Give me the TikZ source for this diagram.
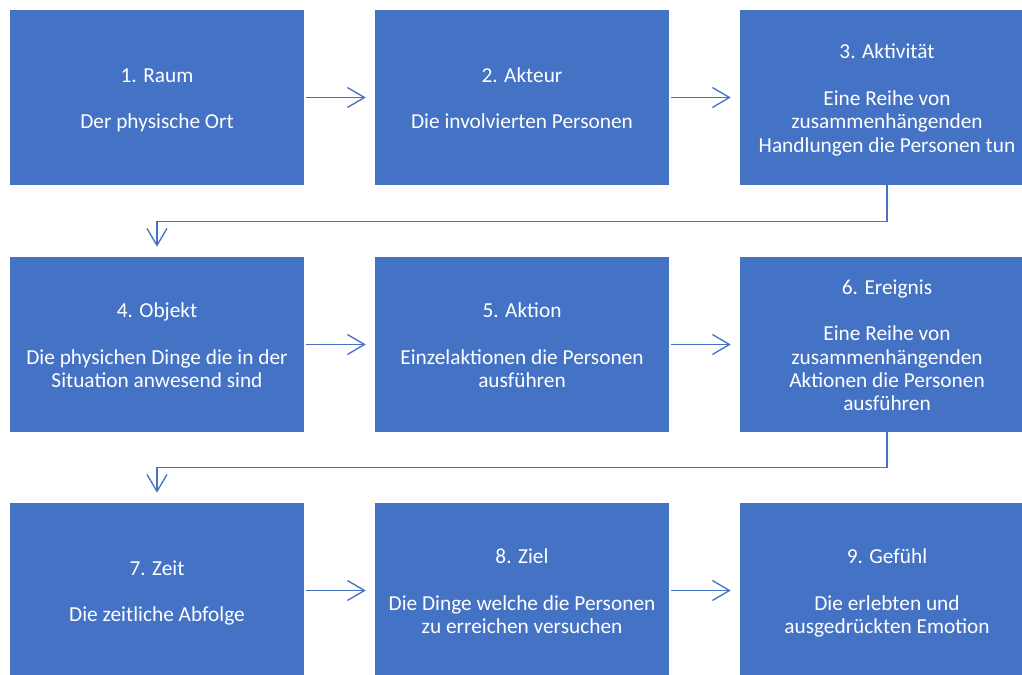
\documentclass[tikz,border=0pt]{standalone}
\usepackage{fontspec}
\setmainfont{Carlito}
\usetikzlibrary{arrows.meta}
\definecolor{boxblue}{HTML}{4472C4}
\newcommand\topstrut{\rule{0pt}{16pt}}
\newcommand\botstrut{\rule[-4pt]{0pt}{4pt}}
\begin{document}
\begin{tikzpicture}[x=0.75pt,y=-0.75pt,
 box/.style={fill=boxblue, draw=none, minimum width=220.5pt, minimum height=131.25pt,
   text=white, align=center, font=\fontsize{16}{17.5}\selectfont, inner sep=0pt},
 link/.style={draw=boxblue, line width=1pt, -{Straight Barb[length=12.75pt,width=15pt]}}]
\useasboundingbox (0,0) rectangle (1022,675);
\node[box] (n1) at (157,97.5) {\topstrut 1. Raum\\[17.5pt]Der physische Ort\botstrut};
\node[box] (n2) at (522,97.5) {\topstrut 2. Akteur\\[17.5pt]Die involvierten Personen\botstrut};
\node[box] (n3) at (887,97.5) {\topstrut 3. Aktivität\\[17.5pt]Eine Reihe von\\zusammenhängenden\\Handlungen die Personen tun\botstrut};
\node[box] (n4) at (157,344.5) {\topstrut 4. Objekt\\[17.5pt]Die physichen Dinge die in der\\Situation anwesend sind\botstrut};
\node[box] (n5) at (522,344.5) {\topstrut 5. Aktion\\[17.5pt]Einzelaktionen die Personen\\ausführen\botstrut};
\node[box] (n6) at (887,344.5) {\topstrut 6. Ereignis\\[17.5pt]Eine Reihe von\\zusammenhängenden\\Aktionen die Personen\\ausführen\botstrut};
\node[box] (n7) at (157,590.5) {\topstrut 7. Zeit\\[17.5pt]Die zeitliche Abfolge\botstrut};
\node[box] (n8) at (522,590.5) {\topstrut 8. Ziel\\[17.5pt]Die Dinge welche die Personen\\zu erreichen versuchen\botstrut};
\node[box] (n9) at (887,590.5) {\topstrut 9. Gefühl\\[17.5pt]Die erlebten und\\ausgedrückten Emotion\botstrut};
\foreach \a/\b in {n1/n2,n2/n3,n4/n5,n5/n6,n7/n8,n8/n9}
  \draw[link, shorten <=1.5pt, shorten >=6.75pt] (\a.east) -- (\b.west);
\draw[link, shorten >=7.5pt] (n3.south) -- ++(0,36) -| (n4.north);
\draw[link, shorten >=7.5pt] (n6.south) -- ++(0,35) -| (n7.north);
\end{tikzpicture}
\end{document}
